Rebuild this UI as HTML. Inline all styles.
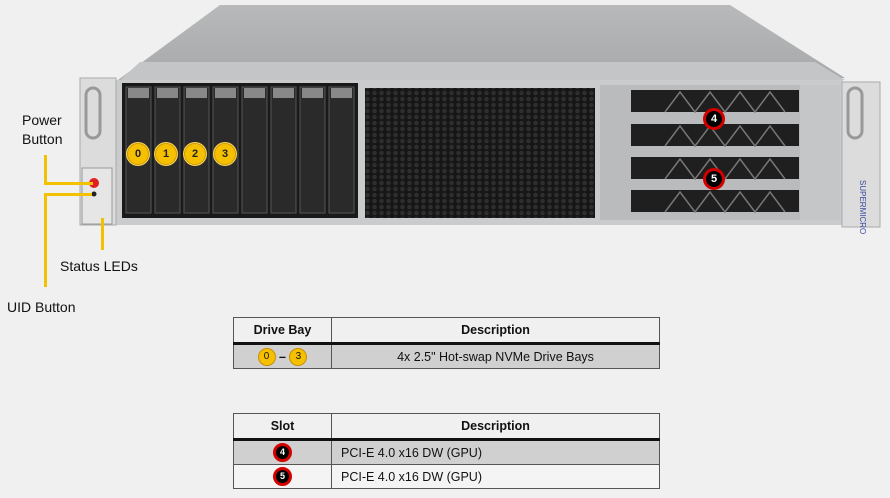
<!DOCTYPE html>
<html><head><style>
body{margin:0;width:890px;height:498px;background:#f0f0f0;position:relative;overflow:hidden;font-family:"Liberation Sans",sans-serif}
.a{position:absolute}
.lab{font-size:14px;color:#111;line-height:19px}
.y{background:#f2c200}
.yb{width:20px;height:20px;border-radius:50%;background:#f5c000;border:1px solid #d09a00;box-shadow:0 0 0 1px #f8d860;font-size:11px;font-weight:bold;text-align:center;line-height:20px;color:#222}
.rb{width:16px;height:16px;border-radius:50%;background:#000;border:3px solid #d40000;font-size:11px;font-weight:bold;text-align:center;line-height:16px;color:#fff}
table{border-collapse:collapse;position:absolute;font-size:12.5px;color:#111}
td{border:1px solid #555;height:23px;padding:0}
th{border:1px solid #555;height:22px;font-size:12.5px;border-bottom:3px solid #111}
</style></head><body>
<svg class="a" style="left:0;top:0" width="890" height="240">
<defs>
<linearGradient id="tp" x1="0" y1="0" x2="0" y2="1"><stop offset="0" stop-color="#b8b9ba"/><stop offset="1" stop-color="#a8a9aa"/></linearGradient>
<pattern id="mesh" width="7" height="6" patternUnits="userSpaceOnUse"><rect width="7" height="6" fill="#161616"/><circle cx="3.5" cy="3" r="2.3" fill="#2e2e2e"/></pattern>
</defs>
<polygon points="220,5 730,5 845,78 118,80" fill="url(#tp)"/>
<polygon points="140,62 815,62 845,80 118,82" fill="#c4c5c6"/>
<rect x="115" y="80" width="728" height="145" fill="#c9cbcc"/>
<rect x="80" y="78" width="36" height="147" fill="#dcdcdc" stroke="#aaa"/>
<rect x="86" y="88" width="14" height="50" rx="7" fill="none" stroke="#999" stroke-width="3"/>
<rect x="82" y="168" width="30" height="56" fill="#e6e6e6" stroke="#999"/>
<circle cx="94" cy="183" r="5" fill="#e02020"/>
<circle cx="94" cy="194" r="2.5" fill="#222"/>
<rect x="842" y="82" width="38" height="145" fill="#dcdcdc" stroke="#aaa"/>
<rect x="848" y="88" width="14" height="50" rx="7" fill="none" stroke="#999" stroke-width="3"/>
<text x="860" y="180" font-size="8" fill="#3b4aa0" transform="rotate(90 860 180)">SUPERMICRO</text>
<rect x="122" y="83" width="236" height="135" fill="#1a1a1a"/>
<g fill="#2a2a2a" stroke="#555">
<rect x="126" y="87" width="25" height="126"/><rect x="155" y="87" width="25" height="126"/><rect x="184" y="87" width="25" height="126"/><rect x="213" y="87" width="25" height="126"/><rect x="242" y="87" width="25" height="126"/><rect x="271" y="87" width="25" height="126"/><rect x="300" y="87" width="25" height="126"/><rect x="329" y="87" width="25" height="126"/>
</g>
<g fill="#888"><rect x="128" y="88" width="21" height="10"/><rect x="157" y="88" width="21" height="10"/><rect x="186" y="88" width="21" height="10"/><rect x="215" y="88" width="21" height="10"/><rect x="244" y="88" width="21" height="10"/><rect x="273" y="88" width="21" height="10"/><rect x="302" y="88" width="21" height="10"/><rect x="331" y="88" width="21" height="10"/></g>
<rect x="365" y="88" width="230" height="130" fill="url(#mesh)"/>
<rect x="600" y="85" width="200" height="135" fill="#b9bbbc"/>
<rect x="631" y="90" width="168" height="22" fill="#1f1f1f"/>
<rect x="631" y="124" width="168" height="22" fill="#1f1f1f"/>
<rect x="631" y="157" width="168" height="22" fill="#1f1f1f"/>
<rect x="631" y="190" width="168" height="22" fill="#1f1f1f"/>
<g fill="none" stroke="#777" stroke-width="1.5">
<polyline points="665,112 680,92 695,112 710,92 725,112 740,92 755,112 770,92 785,112"/>
<polyline points="665,146 680,126 695,146 710,126 725,146 740,126 755,146 770,126 785,146"/>
<polyline points="665,179 680,159 695,179 710,159 725,179 740,159 755,179 770,159 785,179"/>
<polyline points="665,212 680,192 695,212 710,192 725,212 740,192 755,212 770,192 785,212"/>
</g>
<rect x="800" y="85" width="40" height="135" fill="#c4c6c7"/>
</svg>
<div class="a y" style="left:44px;top:155px;width:3px;height:30px"></div>
<div class="a y" style="left:44px;top:182px;width:49px;height:3px"></div>
<div class="a y" style="left:44px;top:193px;width:48px;height:3px"></div>
<div class="a y" style="left:44px;top:193px;width:3px;height:94px"></div>
<div class="a y" style="left:101px;top:218px;width:3px;height:32px"></div>
<div class="a lab" style="left:22px;top:111px">Power<br>Button</div>
<div class="a lab" style="left:60px;top:257px">Status LEDs</div>
<div class="a lab" style="left:7px;top:298px">UID Button</div>
<div class="a yb" style="left:127px;top:143px">0</div>
<div class="a yb" style="left:155px;top:143px">1</div>
<div class="a yb" style="left:184px;top:143px">2</div>
<div class="a yb" style="left:214px;top:143px">3</div>
<div class="a rb" style="left:703px;top:108px">4</div>
<div class="a rb" style="left:703px;top:168px">5</div>
<table style="left:233px;top:317px;width:427px">
<tr><th style="width:95px">Drive Bay</th><th>Description</th></tr>
<tr style="background:#d0d0d0"><td style="text-align:center"><span style="display:inline-block;width:16px;height:16px;border-radius:50%;background:#f5c000;border:1px solid #c89000;font-size:10px;line-height:16px;vertical-align:middle">0</span> <b style="vertical-align:middle">–</b> <span style="display:inline-block;width:16px;height:16px;border-radius:50%;background:#f5c000;border:1px solid #c89000;font-size:10px;line-height:16px;vertical-align:middle">3</span></td><td style="text-align:center">4x 2.5" Hot-swap NVMe Drive Bays</td></tr>
</table>
<table style="left:233px;top:413px;width:427px">
<tr><th style="width:95px">Slot</th><th>Description</th></tr>
<tr style="background:#d0d0d0"><td style="text-align:center"><span style="display:inline-block;width:13px;height:13px;border-radius:50%;background:#000;border:3px solid #d40000;color:#fff;font-size:9px;font-weight:bold;line-height:13px;vertical-align:middle">4</span></td><td style="padding-left:9px">PCI-E 4.0 x16 DW (GPU)</td></tr>
<tr style="background:#f4f4f4"><td style="text-align:center"><span style="display:inline-block;width:13px;height:13px;border-radius:50%;background:#000;border:3px solid #d40000;color:#fff;font-size:9px;font-weight:bold;line-height:13px;vertical-align:middle">5</span></td><td style="padding-left:9px">PCI-E 4.0 x16 DW (GPU)</td></tr>
</table>
</body></html>
